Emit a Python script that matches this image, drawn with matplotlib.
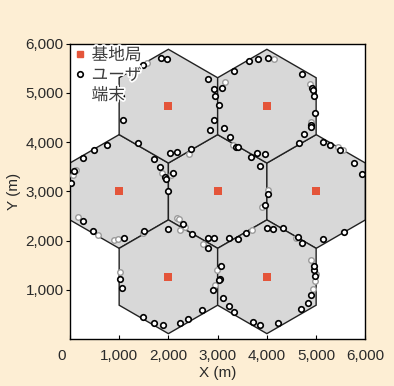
import matplotlib
matplotlib.use('Agg')
import matplotlib.pyplot as plt
import matplotlib.patheffects as pe
import matplotlib.transforms as mtransforms
from matplotlib.patches import RegularPolygon
from matplotlib.lines import Line2D
from matplotlib.ticker import FuncFormatter
import numpy as np

plt.rcParams['font.family'] = ['Liberation Sans', 'Noto Sans CJK JP']

# 基地局の位置 (m)
bs_x = [1000, 3000, 5000, 2000, 4000, 2000, 4000]
bs_y = [3000, 3000, 3000, 4732, 4732, 1268, 1268]
isd = 2000  # 基地局間距離

# ユーザ端末の位置 (m)、faint=1 は薄い縁取り
ue_x = [1477, 1565, 1843, 1971, 2797, 2926, 2946, 1044, 1071, 2926, 2851, 2026, 2174, 2459, 2425,
        747, 496, 273, 83, 124, 56, 15, 1376, 1714, 1823, 1877, 1938, 1951, 2086, 2059, 1998,
        3643, 3819, 4015, 4150, 3338, 4712, 4868, 4908, 4928, 4962, 3142, 3095, 3034, 4969,
        4901, 4888, 4895, 4746, 4658, 3128, 3250, 3304, 3372, 3419, 3670, 3805, 3961, 3852,
        4015, 4015, 5145, 5280, 5449, 5483, 5537, 5768, 5923,
        158, 259, 476, 564, 902, 983, 1105, 1477, 1504, 1998, 2181, 2215, 2303, 2336, 2235,
        2479, 2695, 2804, 2811, 2926, 1024, 1024, 1065, 1491, 1707, 1897, 2235, 2398, 2682,
        3067, 2980, 3047, 3021, 2952, 2911, 3114, 3237, 3338,
        3954, 3907, 3237, 3413, 3575, 3704, 3995, 4116, 4319, 4624, 4590, 4705, 5131, 5558,
        3710, 3866, 4231, 4685, 4840, 4895, 4928, 4983, 4976, 4962, 4962, 4895, 4990]
ue_y = [5573, 5614, 5709, 5695, 5282, 5086, 4937, 4937, 4450, 4450, 4247, 3787, 3794, 3854, 3760,
        3949, 3841, 3672, 3421, 3435, 3333, 3164, 3990, 3665, 3503, 3367, 3300, 3259, 3381, 3333, 3015,
        5654, 5688, 5709, 5688, 5445, 5377, 5174, 5093, 5059, 4944, 5228, 5106, 4754, 4599,
        4403, 4348, 4301, 4166, 3990, 4281, 4105, 3942, 3909, 3909, 3706, 3773, 3760, 3516,
        3029, 2948, 3997, 3942, 3895, 3841, 3841, 3584, 3354,
        2488, 2393, 2190, 2122, 2014, 2041, 2061, 2163, 2190, 2230, 2461, 2440, 2346, 2270, 2224,
        2136, 1933, 1852, 2055, 2055, 1364, 1222, 1040, 451, 336, 288, 329, 403, 593,
        1492, 1415, 1230, 1202, 1100, 993, 842, 674, 559,
        2731, 2677, 2055, 2041, 2163, 2210, 2251, 2237, 2258, 2082, 2048, 1946, 2034, 2176,
        343, 288, 322, 613, 742, 897, 1012, 1188, 1290, 1400, 1486, 1608, 1330]
ue_faint = [0, 1, 0, 0, 0, 0, 0, 0, 0, 0, 0, 0, 0, 0, 1,
            0, 0, 0, 0, 1, 1, 0, 0, 0, 0, 1, 0, 0, 0, 1, 0,
            0, 0, 0, 1, 0, 0, 1, 0, 0, 0, 1, 0, 0, 0,
            1, 0, 0, 0, 0, 0, 0, 1, 0, 0, 0, 0, 0, 0,
            1, 0, 0, 0, 1, 0, 1, 0, 0,
            1, 0, 0, 1, 1, 1, 0, 1, 0, 0, 1, 1, 0, 1, 1,
            0, 1, 0, 0, 0, 1, 0, 0, 0, 0, 0, 0, 0, 0,
            0, 1, 0, 0, 1, 0, 0, 0, 0,
            0, 1, 0, 0, 0, 1, 0, 0, 0, 0, 1, 0, 0, 0,
            0, 0, 0, 0, 0, 0, 1, 1, 0, 0, 0, 1, 1]

ue_x = np.array(ue_x)
ue_y = np.array(ue_y)
faint = np.array(ue_faint) == 1

fig = plt.figure(figsize=(3.94, 3.86), dpi=100, facecolor='#fdeed4')
ax = fig.add_axes([0.1774, 0.1212, 0.750, 0.7655])
ax.set_facecolor('white')

# 六角形セル
radius = isd / np.sqrt(3)
for cx, cy in zip(bs_x, bs_y):
    cell = RegularPolygon((cx, cy), numVertices=6, radius=radius,
                          facecolor='#d8d8d8', edgecolor='#222222', linewidth=1.0, zorder=1)
    ax.add_patch(cell)

ax.scatter(ue_x[faint], ue_y[faint], s=16, facecolor='white', edgecolor='#9a9a9a',
           linewidth=1.0, zorder=3)
ax.scatter(ue_x[~faint], ue_y[~faint], s=16, facecolor='white', edgecolor='black',
           linewidth=1.2, zorder=4)
ax.scatter(bs_x, bs_y, marker='s', s=30, color='#e4553a', linewidth=0, zorder=5)

ax.set_xlim(0, 6000)
ax.set_ylim(0, 6000)
ax.set_aspect('equal')
ax.set_xticks(range(0, 6001, 1000))
ax.set_yticks(range(1000, 6001, 1000))
fmt = FuncFormatter(lambda v, p: f'{int(v):,}')
ax.xaxis.set_major_formatter(fmt)
ax.yaxis.set_major_formatter(fmt)
ax.tick_params(axis='x', direction='in', length=3, width=0.8, pad=7, labelsize=11, labelcolor='#2a2a2a')
ax.tick_params(axis='y', direction='out', length=3, width=0.8, pad=1.5, labelsize=11, labelcolor='#2a2a2a')
for s in ax.spines.values():
    s.set_linewidth(1.0)
    s.set_color('black')

# 原点の「0」は軸の角から少し左へずらす
zero_lbl = ax.get_xticklabels()[0]
zero_lbl.set_transform(zero_lbl.get_transform() +
                       mtransforms.ScaledTranslation(-8 / 100, 0, fig.dpi_scale_trans))

ax.set_xlabel('X (m)', fontsize=11, color='#2a2a2a', labelpad=2)
ax.set_ylabel('Y (m)', fontsize=11, color='#2a2a2a', labelpad=3)

handles = [
    Line2D([], [], marker='s', linestyle='none', color='#e4553a', markersize=5),
    Line2D([], [], marker='o', linestyle='none', markerfacecolor='white',
           markeredgecolor='black', markeredgewidth=1.2, markersize=4),
    Line2D([], [], linestyle='none'),
]
leg = ax.legend(handles, ['基地局', 'ユーザ', '端末'], loc='upper left', frameon=False,
                fontsize=12, handlelength=0.7, handletextpad=0.35, labelspacing=0.3,
                borderaxespad=0.1, borderpad=0.15)
for t in leg.get_texts():
    t.set_color('#3c3c3c')
    t.set_path_effects([pe.withStroke(linewidth=2.5, foreground='white')])

fig.savefig('out.png', dpi=100, facecolor=fig.get_facecolor())
